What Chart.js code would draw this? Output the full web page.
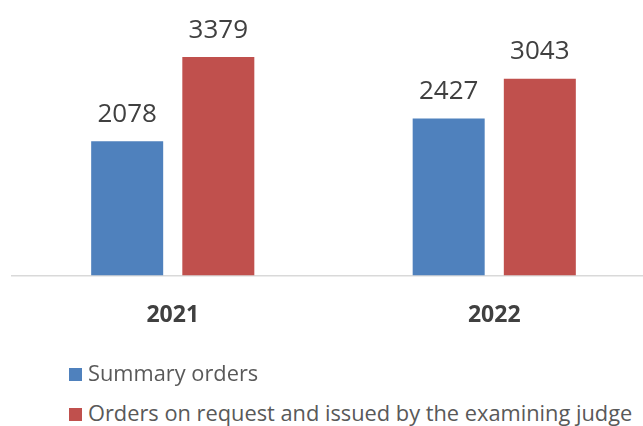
<!DOCTYPE html>
<html><head><meta charset="utf-8">
<script src="https://cdn.jsdelivr.net/npm/chart.js@4/dist/chart.umd.min.js"></script>
<style>
html,body{margin:0;padding:0;background:#fff;overflow:hidden;width:643px;height:426px;}
#wrap{position:absolute;left:0;top:0;width:655px;height:364px;}
.legend{position:absolute;left:69px;font-family:"Open Sans",sans-serif;font-size:21.8px;color:#595959;white-space:nowrap;line-height:28px;}
.legend span.box{display:inline-block;width:13px;height:13px;margin-right:6px;vertical-align:0px;}
</style></head>
<body>
<div id="wrap"><canvas id="c"></canvas></div>
<div class="legend" id="l0" style="top:359px"></div>
<div class="legend" id="l1" style="top:399px"></div>
<script>
const categories = ["2021", "2022"];
const seriesNames = ["Summary orders", "Orders on request and issued by the examining judge"];
const summaryOrders = [2078, 2427];
const ordersOnRequest = [3379, 3043];
const colors = ["#4f81bd", "#c0504d"];

[0,1].forEach(i=>{
  const el=document.getElementById('l'+i);
  const b=document.createElement('span');b.className='box';b.style.background=colors[i];
  el.appendChild(b);el.appendChild(document.createTextNode(seriesNames[i]));
});

const labelPlugin={id:'vals',afterDatasetsDraw(chart){
  const ctx=chart.ctx;ctx.save();
  ctx.font='26px "Open Sans"';ctx.fillStyle='#404040';ctx.textAlign='center';ctx.textBaseline='bottom';
  chart.data.datasets.forEach((ds,di)=>{
    chart.getDatasetMeta(di).data.forEach((bar,i)=>{
      ctx.fillText(String(ds.data[i]),bar.x,bar.y-14);
    });
  });
  ctx.restore();
}};

new Chart(document.getElementById('c'),{
  type:'bar',
  data:{labels:categories,datasets:[
    {label:seriesNames[0],data:summaryOrders,backgroundColor:colors[0],categoryPercentage:0.567,barPercentage:0.79},
    {label:seriesNames[1],data:ordersOnRequest,backgroundColor:colors[1],categoryPercentage:0.567,barPercentage:0.79}
  ]},
  options:{responsive:true,maintainAspectRatio:false,animation:false,
    layout:{padding:{left:12,right:0,top:17,bottom:9}},
    plugins:{legend:{display:false},tooltip:{enabled:false}},
    scales:{
      x:{grid:{display:false,drawTicks:false},border:{display:true,color:'#d9d9d9',width:1.5},
        ticks:{color:'#404040',font:{family:'Open Sans',size:23,weight:'bold'},padding:26}},
      y:{display:false,min:0,max:4000}
    }
  },
  plugins:[labelPlugin]
});
</script>
</body></html>
